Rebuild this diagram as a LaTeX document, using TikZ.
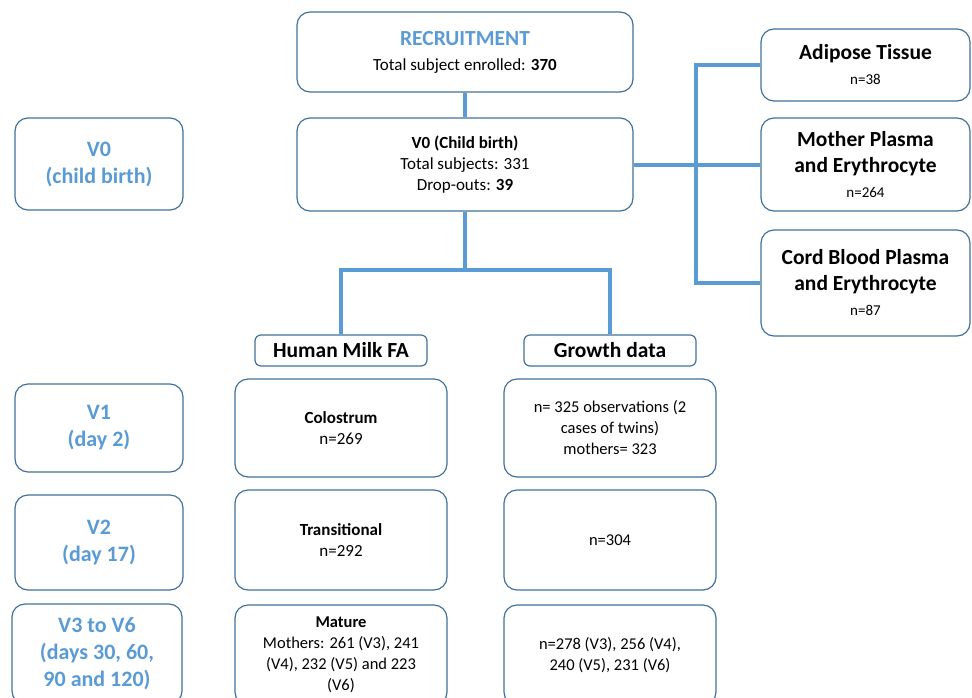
\documentclass[tikz,border=0pt]{standalone}
\usepackage{fontspec}
\setmainfont{Carlito}
\definecolor{lineblue}{HTML}{5B9BD5}
\definecolor{boxblue}{HTML}{41719C}
\definecolor{labblue}{HTML}{5B9BD5}
\newcommand\bigf{\fontsize{21.5}{26}\selectfont\bfseries}
\newcommand\smf{\fontsize{17}{21}\selectfont}
\newcommand\nf{\fontsize{15}{18}\selectfont}
\tikzset{
  box/.style={draw=boxblue, line width=1.2pt, rounded corners=13pt, fill=white,
    align=center, inner sep=0pt, font=\smf},
  conn/.style={draw=lineblue, line width=4pt},
  lab/.style={box, text=labblue, font=\fontsize{22}{27}\selectfont\bfseries},
  lower/.style={font=\fontsize{16.5}{21}\selectfont},
}
\begin{document}
\begin{tikzpicture}[x=1pt,y=-1pt]
\useasboundingbox (0,0) rectangle (972,697);
\clip (0,0) rectangle (972,697);
% top
\node[box, minimum width=336pt, minimum height=80pt, font=\fontsize{17}{25}\selectfont] (rec) at (465,52)
  {{\bigf\color{labblue}RECRUITMENT}\\ Total subject enrolled: \textbf{370}};
\node[box, minimum width=336pt, minimum height=93pt] (v0) at (465,164.5)
  {\textbf{V0 (Child birth)}\\ Total subjects: 331\\ Drop-outs: \textbf{39}};
% right
\node[box, minimum width=209pt, minimum height=72pt, font=\fontsize{15}{25}\selectfont] (adip) at (865.5,65)
  {{\bigf Adipose Tissue}\\ {\nf n=38}};
\node[box, minimum width=209pt, minimum height=93pt, font=\fontsize{15}{26}\selectfont] (moth) at (865.5,164.5)
  {{\bigf Mother Plasma}\\ {\bigf and Erythrocyte}\\[-1pt] {\nf n=264}};
\node[box, minimum width=209pt, minimum height=106pt, font=\fontsize{15}{26}\selectfont] (cord) at (865.5,283)
  {{\bigf Cord Blood Plasma}\\ {\bigf and Erythrocyte}\\[-1pt] {\nf n=87}};
% left labels
\node[lab, minimum width=168pt, minimum height=92pt] (lv0) at (99,164) {V0\\(child birth)};
\node[lab, minimum width=168pt, minimum height=88pt] (lv1) at (99,428) {V1\\(day 2)};
\node[lab, minimum width=168pt, minimum height=95pt] (lv2) at (99,542.5) {V2\\(day 17)};
\node[lab, minimum width=170pt, minimum height=100pt] (lv3) at (97,654) {V3 to V6\\(days 30, 60,\\90 and 120)};
% headers
\node[box, rounded corners=6pt, minimum width=172pt, minimum height=31pt, font=\bigf] (hm) at (341,350.5) {Human Milk FA};
\node[box, rounded corners=6pt, minimum width=172pt, minimum height=31pt, font=\bigf] (gd) at (610,350.5) {Growth data};
% milk column
\node[box, minimum width=212pt, minimum height=98pt] (col) at (341,428) {\textbf{Colostrum}\\ n=269};
\node[box, minimum width=212pt, minimum height=100pt] (tr) at (341,540) {\textbf{Transitional}\\ n=292};
\node[box, lower, minimum width=212pt, minimum height=100pt] (mat) at (341,655)
  {\textbf{Mature}\\ Mothers: 261 (V3), 241\\ (V4), 232 (V5) and 223\\ (V6)};
% growth column
\node[box, lower, minimum width=212pt, minimum height=98pt] (g1) at (610,428)
  {n= 325 observations (2\\ cases of twins)\\ mothers= 323};
\node[box, lower, minimum width=212pt, minimum height=100pt] (g2) at (610,540) {n=304};
\node[box, lower, minimum width=212pt, minimum height=100pt] (g3) at (610,655)
  {n=278 (V3), 256 (V4),\\ 240 (V5), 231 (V6)};
% connectors
\coordinate (split) at (465,270);
\draw[conn] (rec.south) -- (v0.north);
\draw[conn] (v0.east) -- (moth.west);
\draw[conn] (adip.west) -- ++(-64,0) |- (cord.west);
\draw[conn] (v0.south) -- (split);
\draw[conn] (hm.north) -- (hm.north |- split) -- (gd.north |- split) -- (gd.north);
\end{tikzpicture}
\end{document}
